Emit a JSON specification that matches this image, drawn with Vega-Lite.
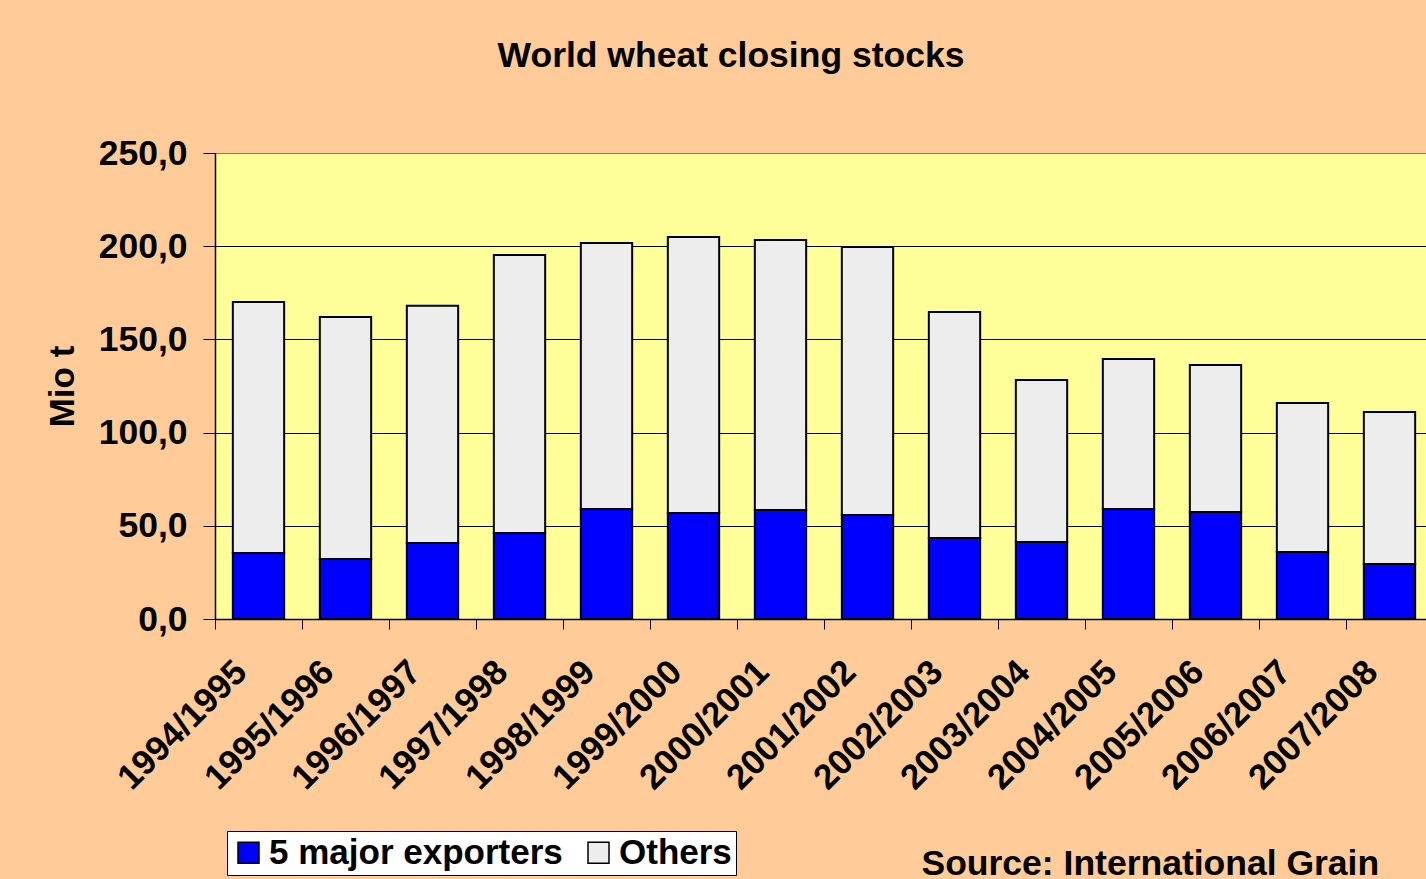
{
  "$schema": "https://vega.github.io/schema/vega-lite/v6.json",
  "autosize": "none",
  "width": 1218,
  "height": 466,
  "padding": {"left": 215, "top": 153, "right": -7, "bottom": 260},
  "background": "#FFCC99",
  "title": {
    "text": "World wheat closing stocks",
    "font": "Liberation Sans",
    "fontSize": 35.5,
    "fontWeight": "bold",
    "color": "black",
    "anchor": "middle",
    "frame": "group",
    "dx": -93,
    "offset": 34,
    "baseline": "alphabetic"
  },
  "data": {
    "values": [
      {"year": "1994/1995", "series": "5 major exporters", "value": 35.4},
      {"year": "1994/1995", "series": "Others", "value": 134.6},
      {"year": "1995/1996", "series": "5 major exporters", "value": 32.2},
      {"year": "1995/1996", "series": "Others", "value": 129.8},
      {"year": "1996/1997", "series": "5 major exporters", "value": 40.8},
      {"year": "1996/1997", "series": "Others", "value": 127.2},
      {"year": "1997/1998", "series": "5 major exporters", "value": 46.1},
      {"year": "1997/1998", "series": "Others", "value": 149.2},
      {"year": "1998/1999", "series": "5 major exporters", "value": 59.0},
      {"year": "1998/1999", "series": "Others", "value": 142.7},
      {"year": "1999/2000", "series": "5 major exporters", "value": 56.9},
      {"year": "1999/2000", "series": "Others", "value": 148.0},
      {"year": "2000/2001", "series": "5 major exporters", "value": 58.5},
      {"year": "2000/2001", "series": "Others", "value": 144.8},
      {"year": "2001/2002", "series": "5 major exporters", "value": 55.8},
      {"year": "2001/2002", "series": "Others", "value": 143.8},
      {"year": "2002/2003", "series": "5 major exporters", "value": 43.5},
      {"year": "2002/2003", "series": "Others", "value": 121.2},
      {"year": "2003/2004", "series": "5 major exporters", "value": 41.3},
      {"year": "2003/2004", "series": "Others", "value": 86.9},
      {"year": "2004/2005", "series": "5 major exporters", "value": 59.0},
      {"year": "2004/2005", "series": "Others", "value": 80.5},
      {"year": "2005/2006", "series": "5 major exporters", "value": 57.4},
      {"year": "2005/2006", "series": "Others", "value": 78.9},
      {"year": "2006/2007", "series": "5 major exporters", "value": 36.0},
      {"year": "2006/2007", "series": "Others", "value": 79.9},
      {"year": "2007/2008", "series": "5 major exporters", "value": 29.5},
      {"year": "2007/2008", "series": "Others", "value": 81.5}
    ]
  },
  "mark": {"type": "bar", "stroke": "black", "strokeWidth": 2, "width": {"band": 0.59}},
  "encoding": {
    "x": {
      "field": "year",
      "type": "nominal",
      "sort": null,
      "scale": {"paddingInner": 0, "paddingOuter": 0},
      "axis": {
        "title": "Source: International Grain",
        "titleFont": "Liberation Sans",
        "titleFontSize": 35.5,
        "titleFontWeight": "bold",
        "titleColor": "black",
        "titleX": 706,
        "titleY": 255,
        "titleAlign": "left",
        "titleBaseline": "alphabetic",
        "titleAngle": 0,
        "labelAngle": -45,
        "labelAlign": "right",
        "labelBaseline": "middle",
        "labelPadding": 37,
        "labelOffset": -18,
        "labelFont": "Liberation Sans",
        "labelFontSize": 35,
        "labelFontWeight": "bold",
        "labelColor": "black",
        "labelOverlap": false,
        "labelBound": false,
        "tickBand": "extent",
        "tickSize": 10,
        "tickColor": "black",
        "tickWidth": 1,
        "domainColor": "black",
        "domainWidth": 1.5,
        "grid": false
      }
    },
    "y": {
      "field": "value",
      "type": "quantitative",
      "stack": "zero",
      "scale": {"domain": [0, 250], "nice": false},
      "axis": {
        "values": [0, 50, 100, 150, 200, 250],
        "labelExpr": "replace(format(datum.value, '.1f'), '.', ',')",
        "title": "Mio t",
        "titleFont": "Liberation Sans",
        "titleFontSize": 35,
        "titleFontWeight": "bold",
        "titleColor": "black",
        "titleX": -153,
        "titleY": 233,
        "titleAlign": "center",
        "titleBaseline": "middle",
        "titleAngle": 270,
        "labelFont": "Liberation Sans",
        "labelFontSize": 35.5,
        "labelFontWeight": "bold",
        "labelColor": "black",
        "labelPadding": 16,
        "tickSize": 12,
        "tickColor": "black",
        "domainColor": "black",
        "domainWidth": 1.5,
        "grid": true,
        "gridColor": {"condition": {"test": "datum.value == 250", "value": "#808080"}, "value": "black"},
        "gridOpacity": 1,
        "gridWidth": 1
      }
    },
    "color": {
      "field": "series",
      "type": "nominal",
      "scale": {"domain": ["5 major exporters", "Others"], "range": ["#0000FF", "#EDEDED"]},
      "legend": {
        "title": null,
        "orient": "none",
        "direction": "horizontal",
        "legendX": 12,
        "legendY": 678,
        "fillColor": "white",
        "strokeColor": "black",
        "padding": 4,
        "symbolType": "square",
        "symbolSize": 441,
        "symbolStrokeColor": "black",
        "symbolStrokeWidth": 1.5,
        "symbolOffset": 0,
        "labelOffset": 3,
        "columnPadding": 18,
        "labelFont": "Liberation Sans",
        "labelFontSize": 35,
        "labelFontWeight": "bold",
        "labelColor": "black",
        "labelLimit": 0
      }
    },
    "order": {"field": "series", "sort": "ascending"}
  },
  "config": {
    "view": {"fill": "#FFFF99", "stroke": "#808080", "strokeWidth": 1}
  }
}
